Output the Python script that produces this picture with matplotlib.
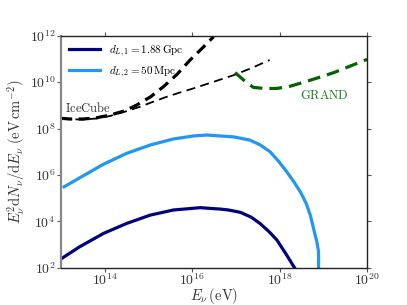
import numpy as np
import matplotlib
matplotlib.use("Agg")
import matplotlib.pyplot as plt

plt.rcParams['mathtext.fontset'] = 'cm'
plt.rcParams['font.family'] = ['DejaVu Serif']

# log10(E/eV) and log10(flux)
e_far = [13.02, 13.43, 13.97, 14.50, 15.04, 15.57, 16.18, 16.64, 16.83, 17.10, 17.35, 17.55, 17.75, 17.94, 18.16, 18.35]
f_far = [2.41, 2.91, 3.48, 3.91, 4.27, 4.49, 4.59, 4.53, 4.49, 4.39, 4.18, 3.91, 3.57, 3.19, 2.55, 1.97]

e_near = [13.07, 13.43, 13.97, 14.50, 15.04, 15.57, 16.03, 16.33, 16.64, 16.95, 17.32, 17.55, 17.78, 17.97, 18.16, 18.32, 18.47, 18.60, 18.70, 18.85, 18.89, 18.89]
f_near = [5.49, 5.88, 6.46, 6.93, 7.29, 7.55, 7.68, 7.72, 7.68, 7.64, 7.50, 7.30, 7.00, 6.60, 6.14, 5.72, 5.28, 4.80, 4.27, 3.12, 2.69, 1.97]

e_ic_thick = [13.0, 13.2, 13.51, 13.8, 14.12, 14.45, 14.73, 15.05, 15.34, 15.65, 15.95, 16.25, 16.49]
f_ic_thick = [8.44, 8.41, 8.41, 8.46, 8.58, 8.76, 9.01, 9.37, 9.80, 10.33, 10.95, 11.50, 11.96]

e_ic_thin = [13.0, 13.2, 13.51, 13.8, 14.12, 14.45, 14.81, 15.1, 15.42, 15.75, 16.03, 16.5, 16.95, 17.35, 17.77]
f_ic_thin = [8.45, 8.40, 8.39, 8.43, 8.54, 8.72, 8.94, 9.15, 9.37, 9.57, 9.73, 10.02, 10.30, 10.60, 10.95]

e_grand = [16.98, 17.2, 17.40, 17.7, 17.94, 18.2, 18.47, 18.85, 19.24, 19.6, 20.0]
f_grand = [10.41, 10.05, 9.77, 9.72, 9.73, 9.80, 9.95, 10.17, 10.41, 10.68, 10.98]

label_far = r'$d_{L,1} = 1.88\,\mathrm{Gpc}$'
label_near = r'$d_{L,2} = 50\,\mathrm{Mpc}$'

fig = plt.figure(figsize=(4.07, 3.05), dpi=100)
ax = fig.add_axes([0.150, 0.122, 0.752, 0.761])

p = lambda a: 10 ** np.array(a)
ax.plot(p(e_far), p(f_far), color='#000080', lw=2.3, label=label_far, solid_joinstyle='round')
ax.plot(p(e_near), p(f_near), color='#2196F3', lw=2.3, label=label_near, solid_joinstyle='round')
ax.plot(p(e_ic_thick), p(f_ic_thick), color='black', lw=2.3, ls=(0, (3.5, 2)))
ax.plot(p(e_ic_thin), p(f_ic_thin), color='black', lw=1.3, ls=(0, (5, 3)))
ax.plot(p(e_grand), p(f_grand), color='#006400', lw=2.3, ls=(0, (4, 2.2)))

ax.text(10**13.08, 10**8.87, r'$\mathrm{IceCube}$', fontsize=9, color='#333333', va='center', ha='left')
ax.text(10**18.47, 10**9.44, r'$\mathrm{GRAND}$', fontsize=9, color='#1a7a1a', va='center', ha='left')

ax.set_xscale('log')
ax.set_yscale('log')
ax.set_xlim(1e13, 1e20)
ax.set_ylim(1e2, 1e12)
ax.set_xticks([1e14, 1e16, 1e18, 1e20])
ax.set_xticklabels([r'$10^{14}$', r'$10^{16}$', r'$10^{18}$', r'$10^{20}$'])
ax.set_yticks([1e2, 1e4, 1e6, 1e8, 1e10, 1e12])
ax.set_yticklabels([r'$10^{2}$', r'$10^{4}$', r'$10^{6}$', r'$10^{8}$', r'$10^{10}$', r'$10^{12}$'])
ax.minorticks_off()
ax.tick_params(which='major', direction='out', length=3, width=0.8, color='#555555',
               labelsize=10, labelcolor='#333333', top=True, right=True, pad=1)
ax.tick_params(axis='x', pad=0)

ax.set_xlabel(r'$E_\nu\,(\mathrm{eV})$', fontsize=10.5, color='#333333', va='center')
ax.xaxis.set_label_coords(0.5, -0.122)
ax.set_ylabel(r'$E_\nu^2\mathrm{d}N_\nu/\mathrm{d}E_\nu\;(\mathrm{eV\,cm^{-2}})$', fontsize=10.5, color='#333333', labelpad=1)

for s in ['top', 'right', 'bottom']:
    ax.spines[s].set_color('#222222')
    ax.spines[s].set_linewidth(1.0)
ax.spines['left'].set_color('#888888')
ax.spines['left'].set_linewidth(1.6)

ax.legend(loc='upper left', frameon=False, fontsize=8, handlelength=2.8,
          borderaxespad=0.3, labelspacing=0.5)

fig.savefig('out.png', dpi=100)
